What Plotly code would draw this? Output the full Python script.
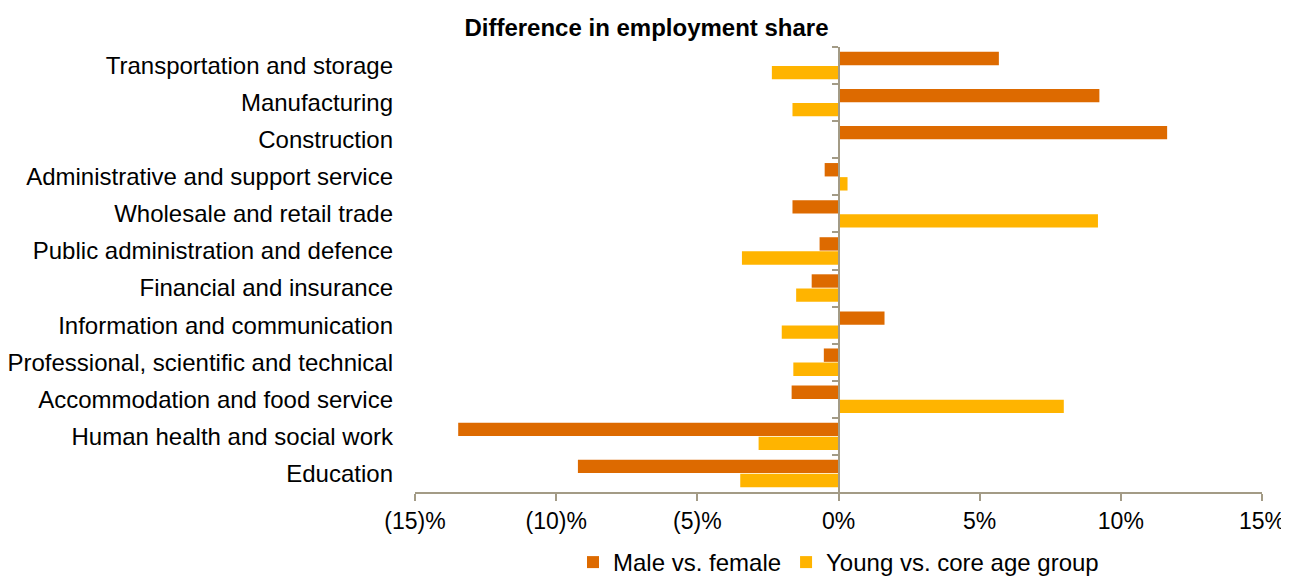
import plotly.graph_objects as go

categories = [
    "Transportation and storage",
    "Manufacturing",
    "Construction",
    "Administrative and support service",
    "Wholesale and retail trade",
    "Public administration and defence",
    "Financial and insurance",
    "Information and communication",
    "Professional, scientific and technical",
    "Accommodation and food service",
    "Human health and social work",
    "Education",
]
male_vs_female = [5.68, 9.24, 11.64, -0.49, -1.63, -0.67, -0.95, 1.63, -0.52, -1.66, -13.47, -9.23]
young_vs_core = [-2.36, -1.63, 0.0, 0.32, 9.19, -3.42, -1.50, -2.01, -1.60, 7.98, -2.83, -3.48]

tick_values = [-15, -10, -5, 0, 5, 10, 15]
tick_labels = ["(15)%", "(10)%", "(5)%", "0%", "5%", "10%", "15%"]

FONT = "Liberation Sans, Arial, sans-serif"
AXIS_COLOR = "#A39B86"
MALE_COLOR = "#DD6A00"
YOUNG_COLOR = "#FFB400"

W, H = 1281, 577  # page body has an 8px margin inside the 1289x577 window

fig = go.Figure()
fig.add_trace(go.Bar(
    name="Male vs. female", y=categories, x=male_vs_female, orientation="h",
    marker=dict(color=MALE_COLOR, line=dict(width=0)),
))
fig.add_trace(go.Bar(
    name="Young vs. core age group", y=categories, x=young_vs_core, orientation="h",
    marker=dict(color=YOUNG_COLOR, line=dict(width=0)),
))
# invisible helper trace for the zero-crossing category axis
fig.add_trace(go.Scatter(
    x=[0] * len(categories), y=categories, yaxis="y2", mode="markers",
    marker=dict(opacity=0), showlegend=False, hoverinfo="skip",
))

fig.update_layout(
    width=W, height=H,
    margin=dict(l=407, r=27, t=39, b=93),
    paper_bgcolor="white", plot_bgcolor="white",
    font=dict(family=FONT, size=23, color="#000000"),
    title=dict(text="<b>Difference in employment share</b>", x=638.5 / W, xanchor="center",
               y=1 - 20 / H, yanchor="middle", font=dict(size=24, color="#000000")),
    barmode="group", bargap=0.24, bargroupgap=0.05,
    showlegend=True,
    legend=dict(orientation="h", x=0.5, xanchor="center", yref="container",
                y=0, yanchor="bottom", font=dict(size=24), traceorder="normal"),
    xaxis=dict(
        range=[-15, 15], tickvals=tick_values, ticktext=tick_labels,
        showline=True, linecolor=AXIS_COLOR, linewidth=2,
        ticks="outside", ticklen=7, tickwidth=2, tickcolor=AXIS_COLOR,
        showgrid=False, zeroline=False, tickfont=dict(size=23), automargin=False,
    ),
    yaxis=dict(
        type="category", categoryorder="array", categoryarray=categories,
        range=[len(categories) - 0.5, -0.5],
        showline=False, showgrid=False, zeroline=False, ticks="",
        ticklabelstandoff=21, tickfont=dict(size=24), automargin=False,
    ),
    yaxis2=dict(
        type="category", categoryorder="array", categoryarray=categories,
        range=[len(categories) - 0.5, -0.5],
        overlaying="y", anchor="free", position=0.5, side="left",
        showline=True, linecolor=AXIS_COLOR, linewidth=2,
        ticks="outside", tickson="boundaries", ticklen=6, tickwidth=2, tickcolor=AXIS_COLOR,
        showticklabels=False, showgrid=False, zeroline=False, automargin=False,
    ),
)

fig.write_html("out.html")
